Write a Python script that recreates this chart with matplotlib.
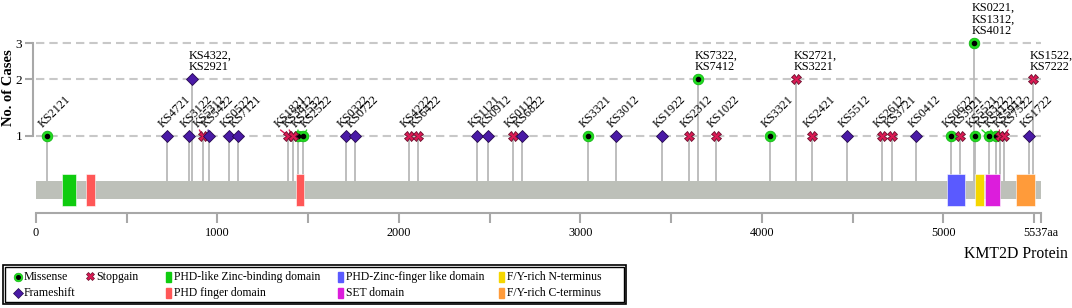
import numpy as np
import matplotlib
matplotlib.use('Agg')
import matplotlib.pyplot as plt
from matplotlib import transforms
from matplotlib.patches import Rectangle

plt.rcParams['font.family'] = ['Liberation Serif', 'DejaVu Serif']

# ---- data ----
protein_len = 5537

missense_pos = [62, 1445, 1473, 3043, 3649, 4044, 5040, 5172, 5177, 5252, 5289]
missense_ids = [['KS2121'], ['KS2532'], ['KS2522'], ['KS3321'], ['KS7322', 'KS7412'],
                ['KS3321'], ['KS0622'], ['KS0221', 'KS1312', 'KS4012'], ['KS5521'],
                ['KS6322'], ['KS4122']]

stopgain_pos = [918, 1390, 1414, 2055, 2103, 2630, 3598, 3747, 4191, 4277, 4661,
                4720, 5091, 5311, 5333, 5495]
stopgain_ids = [['KS5312'], ['KS1821'], ['KS3812'], ['KS4222'], ['KS6422'], ['KS0112'],
                ['KS2312'], ['KS1022'], ['KS2721', 'KS3221'], ['KS2421'], ['KS2612'],
                ['KS3721'], ['KS3921'], ['KS5912'], ['KS7522'], ['KS1522', 'KS7222']]

frameshift_pos = [720, 843, 858, 953, 1062, 1111, 1706, 1758, 2428, 2492, 2679,
                  3196, 3451, 4467, 4852, 5471]
frameshift_ids = [['KS4721'], ['KS3122'], ['KS4322', 'KS2921'], ['KS5422'], ['KS0522'],
                  ['KS7121'], ['KS0322'], ['KS0722'], ['KS1121'], ['KS0912'], ['KS6822'],
                  ['KS3012'], ['KS1922'], ['KS5512'], ['KS0412'], ['KS1722']]

domain_names = ['PHD-like Zinc-binding domain', 'PHD finger domain', 'PHD finger domain',
                'PHD-Zinc-finger like domain', 'F/Y-rich N-terminus', 'SET domain',
                'F/Y-rich C-terminus']
domain_start = [142, 277, 1432, 5023, 5174, 5230, 5401]
domain_end = [220, 325, 1476, 5122, 5223, 5313, 5504]

major_ticks = [0, 1000, 2000, 3000, 4000, 5000, 5537]
major_labels = ['0', '1000', '2000', '3000', '4000', '5000', '5537aa']

# ---- styles ----
dom_color = {'PHD-like Zinc-binding domain': '#0fcc0f', 'PHD finger domain': '#ff5757',
             'PHD-Zinc-finger like domain': '#5a5aff', 'F/Y-rich N-terminus': '#f5d600',
             'SET domain': '#dc1ddc', 'F/Y-rich C-terminus': '#ff9b3a'}
mut_color = {'Missense': '#1fdc1f', 'Stopgain': '#dc1a55', 'Frameshift': '#4a1aa6'}
grey = '#a8a8a8'

W, H = 1072, 308
fig = plt.figure(figsize=(W / 100, H / 100), dpi=100)


def box(x0, y0, x1, y1):
    return [x0 / W, 1 - y1 / H, (x1 - x0) / W, (y1 - y0) / H]


# ---- lollipop panel ----
ax = fig.add_axes(box(33.3, 0, 1040.7, 180.7))
ax.patch.set_alpha(0)
p = 0.15
ax.set_yscale('function', functions=(lambda v: np.power(np.maximum(v, 1e-9), p),
                                     lambda v: np.power(np.maximum(v, 0), 1 / p)))
ax.set_xlim(-15, protein_len)
ax.set_ylim(0.547, 4.745)
for s in ['top', 'right', 'bottom']:
    ax.spines[s].set_visible(False)
ax.spines['left'].set_bounds(1, 3)
ax.spines['left'].set_color(grey)
ax.spines['left'].set_linewidth(1.5)
ax.set_xticks([])
ax.set_yticks([1, 2, 3])
ax.set_yticklabels(['1', '2', '3'])
ax.yaxis.set_minor_locator(matplotlib.ticker.NullLocator())
ax.tick_params(axis='y', length=6, width=1.5, color=grey, labelsize=9.5, pad=2)
ax.hlines([1, 2, 3], 0, protein_len, colors='#c8c8c8', lw=1.5,
          linestyles=(0, (4, 2.4)), zorder=0)

ybase = ax.get_ylim()[0]
muts = []
for kind, pos, ids in [('Missense', missense_pos, missense_ids),
                       ('Stopgain', stopgain_pos, stopgain_ids),
                       ('Frameshift', frameshift_pos, frameshift_ids)]:
    cnt = [len(i) for i in ids]
    ax.vlines(pos, ybase, cnt, colors='#b9b9b9', lw=1.3, zorder=1)
    for x, i in zip(pos, ids):
        muts.append((x, i, kind))

ms_style = dict(ls='none', zorder=3)
mc = [len(i) for i in missense_ids]
ax.plot(missense_pos, mc, marker='o', ms=7.6, mfc=mut_color['Missense'],
        mec='#14b814', mew=0.6, **ms_style)
ax.plot(missense_pos, mc, marker='o', ms=3.0, mfc='black', mec='black', **ms_style)
ax.plot(stopgain_pos, [len(i) for i in stopgain_ids], marker='X', ms=6.8,
        mfc=mut_color['Stopgain'], mec='#6a0d2c', mew=0.6, **ms_style)
ax.plot(frameshift_pos, [len(i) for i in frameshift_ids], marker='D', ms=5.8,
        mfc=mut_color['Frameshift'], mec='#24084f', mew=0.6, **ms_style)


def spread(xs, gap):
    groups = []
    for x in xs:
        groups.append([x])
        while len(groups) > 1:
            a, b = groups[-2], groups[-1]
            a_end = np.mean(a) + (len(a) - 1) / 2 * gap
            b_start = np.mean(b) - (len(b) - 1) / 2 * gap
            if b_start - a_end < gap:
                groups[-2:] = [a + b]
            else:
                break
    out = []
    for g in groups:
        c = np.mean(g)
        out += [c + (k - (len(g) - 1) / 2) * gap for k in range(len(g))]
    return out


# single-case labels, slanted, nudged apart where crowded
singles = sorted([m for m in muts if len(m[1]) == 1], key=lambda m: m[0])
label_x = spread([m[0] for m in singles], 48)
lab_tr = transforms.offset_copy(ax.transData, fig=fig, x=-2, y=6, units='dots')
for (x, ids, kind), lx in zip(singles, label_x):
    ax.text(lx, 1, ids[0], transform=lab_tr, rotation=45, rotation_mode='anchor',
            ha='left', va='bottom', fontsize=8.8, zorder=4)
    if abs(lx - x) > 5:
        ax.annotate('', xy=(x, 1), xytext=(lx, 1), textcoords=lab_tr,
                    arrowprops=dict(arrowstyle='-', color=mut_color[kind], lw=1,
                                    shrinkA=0, shrinkB=3), zorder=2)

# multi-case labels, stacked
multi_tr = transforms.offset_copy(ax.transData, fig=fig, x=-3, y=6, units='dots')
for x, ids, kind in muts:
    if len(ids) > 1:
        ax.text(x, len(ids), ',\n'.join(ids), transform=multi_tr,
                ha='left', va='bottom', fontsize=8.8, linespacing=1.0, zorder=4)

fig.text(9 / W, 1 - 88 / H, 'No. of Cases', rotation=90, ha='center', va='center',
         fontsize=10.5, fontweight='bold')

# ---- protein panel ----
bx = fig.add_axes(box(36, 170, 1040.7, 212.7))
bx.patch.set_alpha(0)
bx.set_xlim(0, protein_len)
bx.set_ylim(0, 1)
for s in ['top', 'right', 'left']:
    bx.spines[s].set_visible(False)
bx.spines['bottom'].set_bounds(0, protein_len)
bx.spines['bottom'].set_color(grey)
bx.spines['bottom'].set_linewidth(1.5)
bx.set_yticks([])
bx.barh(0.535, protein_len, left=0, height=0.428, color='#bdc0b9', zorder=1)
for name, s0, s1 in zip(domain_names, domain_start, domain_end):
    bx.barh(0.531, s1 - s0, left=s0, height=0.75, color=dom_color[name],
            edgecolor='white', lw=0.4, zorder=2)
bx.set_xticks(major_ticks)
bx.set_xticklabels(major_labels)
bx.set_xticks(np.arange(500, protein_len, 1000), minor=True)
bx.tick_params(axis='x', which='both', direction='out', length=7, width=1.5,
               color=grey, labelsize=8.8, pad=3)

fig.text(1068 / W, 1 - 254 / H, 'KMT2D Protein', ha='right', va='center', fontsize=11.3)

# ---- legend ----
lg = fig.add_axes(box(2, 264, 628, 305))
lg.set_xlim(2, 628)
lg.set_ylim(305, 264)
lg.axis('off')
lg.add_patch(Rectangle((3, 265), 623, 39, fill=False, ec='black', lw=1.2))
lg.add_patch(Rectangle((5, 267), 619, 35, fill=False, ec='black', lw=1.0))
r1, r2 = 277, 293
lg.plot(18, r1, marker='o', ms=6.2, mfc=mut_color['Missense'], mec='#14b814', mew=0.5)
lg.plot(18, r1, marker='o', ms=2.6, mfc='black', mec='black')
lg.text(23.5, r1, 'Missense', va='center', fontsize=8.6)
lg.plot(18, r2, marker='D', ms=4.8, mfc=mut_color['Frameshift'], mec='#24084f', mew=0.5)
lg.text(23.5, r2, 'Frameshift', va='center', fontsize=8.6)
lg.plot(89.5, r1 - 1, marker='X', ms=6.0, mfc=mut_color['Stopgain'], mec='#6a0d2c', mew=0.5)
lg.text(96.5, r1, 'Stopgain', va='center', fontsize=8.6)
leg_items = [(166, r1, 'PHD-like Zinc-binding domain'), (166, r2, 'PHD finger domain'),
             (338, r1, 'PHD-Zinc-finger like domain'), (338, r2, 'SET domain'),
             (499, r1, 'F/Y-rich N-terminus'), (499, r2, 'F/Y-rich C-terminus')]
for lx, ly, name in leg_items:
    lg.add_patch(Rectangle((lx, ly - 5), 4.5, 9.5, color=dom_color[name]))
    lg.text(lx + 7.5, ly, name, va='center', fontsize=8.4)

fig.savefig('out.png', dpi=100)
